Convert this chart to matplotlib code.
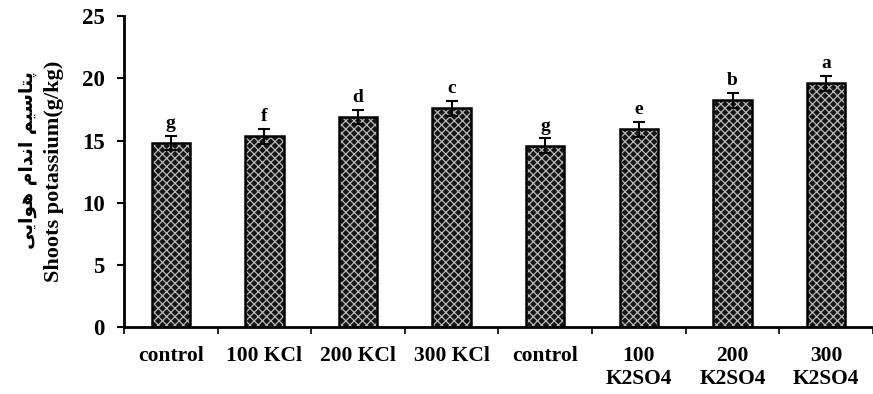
import matplotlib
matplotlib.use("Agg")
import matplotlib.pyplot as plt
import numpy as np

# data
categories = ["control", "100 KCl", "200 KCl", "300 KCl", "control",
              "100\nK2SO4", "200\nK2SO4", "300\nK2SO4"]
values = [14.8, 15.35, 16.9, 17.6, 14.57, 15.9, 18.25, 19.6]
errors = [0.6, 0.6, 0.55, 0.6, 0.6, 0.6, 0.6, 0.6]
letters = ["g", "f", "d", "c", "g", "e", "b", "a"]

# Persian label, pre-shaped (presentation forms, visual order)
fa_hawaii = "\uFEF0\uFEF3\uFE8D\uFEEE\uFEEB"
fa_andam = "\uFEE1\uFE8D\uFEAA\uFEE7\uFE8D"
fa_potassium = "\uFEE2\uFEF4\uFEB3\uFE8E\uFE98\uFB58"
ylabel_fa = fa_hawaii + " " + fa_andam + " " + fa_potassium
ylabel_en = "Shoots potassium(g/kg)"

plt.rcParams["font.family"] = ["Liberation Serif", "DejaVu Serif"]
plt.rcParams["font.weight"] = "bold"
plt.rcParams["hatch.linewidth"] = 0.9

fig = plt.figure(figsize=(8.73, 3.94), dpi=100)
ax = fig.add_axes([0.142, 0.170, 0.858, 0.789])

x = np.arange(len(categories))
width = 0.41

# patterned fill, then black outline on top
ax.bar(x, values, width, color="#151515", edgecolor="#b8b8b8", hatch="xxxx",
       linewidth=0, zorder=2)
ax.bar(x, values, width, fill=False, edgecolor="black", linewidth=1.8, zorder=3)
ax.errorbar(x, values, yerr=errors, fmt="none", ecolor="black", elinewidth=1.5,
            capsize=4.5, capthick=1.5, zorder=4)

for xi, v, e, t in zip(x, values, errors, letters):
    ax.text(xi, v + e + 0.3, t, ha="center", va="bottom", fontsize=14,
            fontweight="bold")

ax.set_xlim(-0.5, 7.35)
ax.set_ylim(0, 25)
ax.set_yticks(np.arange(0, 26, 5))
ax.set_xticks(x)
ax.set_xticklabels(categories, fontsize=15.5, fontweight="bold", linespacing=1.2)
ax.set_xticks(np.arange(-0.5, 7.6, 1), minor=True)
ax.tick_params(axis="x", which="major", length=0, pad=14)
ax.tick_params(axis="x", which="minor", length=5, width=1.2, direction="out")
ax.tick_params(axis="y", length=5, width=1.5, direction="out", pad=9,
               labelsize=16.5)
for lab in ax.get_yticklabels():
    lab.set_fontweight("bold")

for side in ["top", "right"]:
    ax.spines[side].set_visible(False)
for side in ["left", "bottom"]:
    ax.spines[side].set_linewidth(2)

fig.text(0.031, 0.594, ylabel_fa, rotation=90, ha="center", va="center",
         fontsize=13.5, fontweight="bold", family=["DejaVu Sans"])
fig.text(0.062, 0.565, ylabel_en, rotation=90, ha="center", va="center",
         fontsize=16, fontweight="bold")

fig.savefig("out.png", dpi=100)
